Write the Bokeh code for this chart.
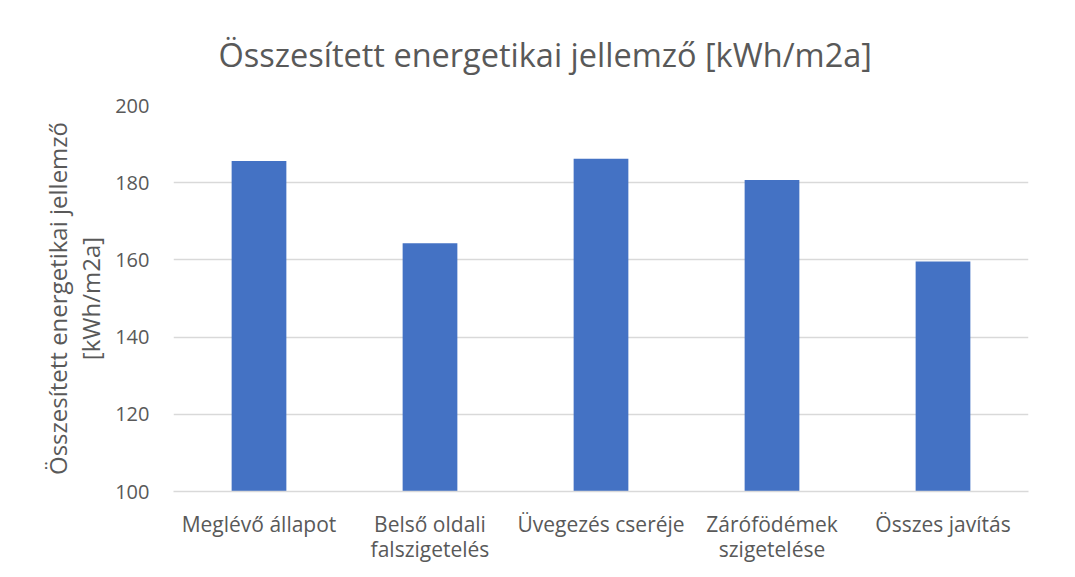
from bokeh.plotting import figure
from bokeh.embed import file_html
from bokeh.resources import INLINE
from bokeh.models import ColumnDataSource, FactorRange, Range1d, FixedTicker

# ---- data ----
categories = ["Meglévő állapot", "Belső oldali\nfalszigetelés", "Üvegezés cseréje",
              "Zárófödémek\nszigetelése", "Összes javítás"]
values = [185.6, 164.3, 186.2, 180.7, 159.6]
y_ticks = [100, 120, 140, 160, 180, 200]
title_text = "Összesített energetikai jellemző [kWh/m2a]"
y_label = "Összesített energetikai jellemző\n[kWh/m2a]"

FONT = "Open Sans"
TXT = "#595959"
GRID = "#d9d9d9"
BAR = "#4472C4"

W, H = 1075, 577
FL, FT, FR, FB = 173, 105, 1028, 491

src = ColumnDataSource(dict(cat=categories, val=values, base=[y_ticks[0]] * len(values)))

p = figure(x_range=FactorRange(*categories, range_padding=0), y_range=Range1d(100, 200),
           width=W, height=H, output_backend="svg", toolbar_location=None,
           min_border_left=FL, min_border_right=W - FR, min_border_top=FT,
           min_border_bottom=H - FB)
p.outline_line_color = None
p.background_fill_color = "white"
p.border_fill_color = "white"

p.vbar(x="cat", top="val", bottom="base", width=0.32, source=src, fill_color=BAR, line_color=None)

p.title.text = title_text
p.title.align = "left"
p.title.text_font = FONT
p.title.text_font_size = "32.5px"
p.title.text_font_style = "normal"
p.title.text_color = TXT
p.title.standoff = 58
p.title.offset = 45

p.yaxis.ticker = FixedTicker(ticks=y_ticks)
p.yaxis.axis_line_color = None
p.yaxis.major_tick_line_color = None
p.yaxis.minor_tick_line_color = None
p.yaxis.major_label_text_font = FONT
p.yaxis.major_label_text_font_size = "20px"
p.yaxis.major_label_text_color = TXT
p.yaxis.major_label_standoff = 18
p.yaxis.axis_label = y_label
p.yaxis.axis_label_text_font = FONT
p.yaxis.axis_label_text_font_size = "24px"
p.yaxis.axis_label_text_font_style = "normal"
p.yaxis.axis_label_text_color = TXT
p.yaxis.axis_label_text_line_height = 1.02
p.yaxis.axis_label_standoff = 5

p.xaxis.axis_line_color = GRID
p.xaxis.axis_line_width = 1.5
p.xaxis.major_tick_line_color = None
p.xaxis.minor_tick_line_color = None
p.xaxis.major_label_text_font = FONT
p.xaxis.major_label_text_font_size = "21px"
p.xaxis.major_label_text_color = TXT
p.xaxis.major_label_text_line_height = 0.91
p.xaxis.major_label_standoff = 12
p.xaxis.major_label_orientation = "horizontal"

p.xgrid.grid_line_color = None
p.ygrid.grid_line_color = GRID
p.ygrid.grid_line_width = 1.5

open("out.html", "w").write(file_html(p, INLINE))
